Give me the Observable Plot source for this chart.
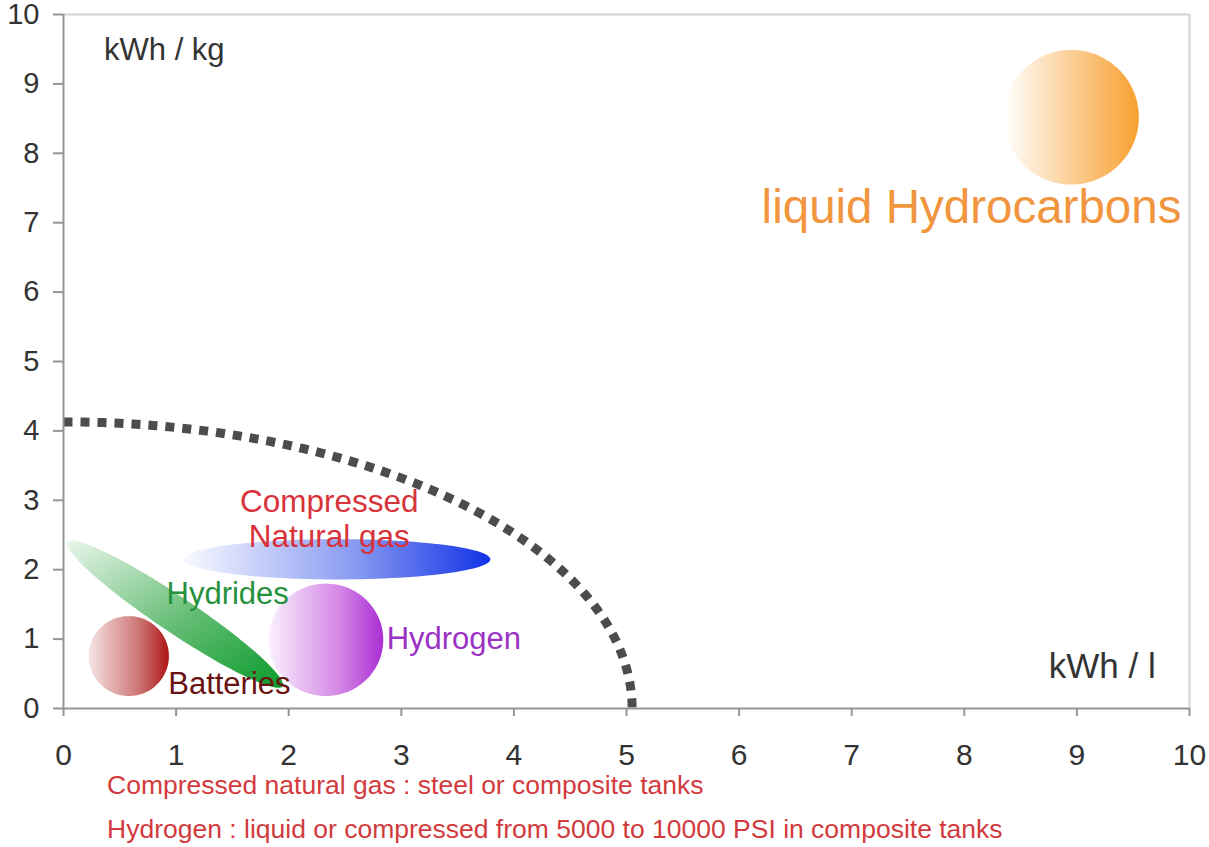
<!DOCTYPE html>
<html>
<head>
<meta charset="utf-8">
<script src="https://cdn.jsdelivr.net/npm/d3@7"></script>
<script src="https://cdn.jsdelivr.net/npm/@observablehq/plot@0.6"></script>
<style>
  html, body { margin: 0; padding: 0; background: #ffffff; }
  body { font-family: "Liberation Sans", Arial, sans-serif; width: 1209px; height: 847px; overflow: hidden; }
  #chart svg { display: block; overflow: visible; }
  .cap { padding-left: 107px; font-size: 26.5px; line-height: 30px; height: 30px; color: #d23a3e; white-space: nowrap; }
</style>
</head>
<body>
<div id="chart"></div>
<div id="captions"></div>
<script>
// ---------- data ----------
const xTicks = [0, 1, 2, 3, 4, 5, 6, 7, 8, 9, 10];
const yTicks = [0, 1, 2, 3, 4, 5, 6, 7, 8, 9, 10];

// storage technology regions (ellipses in kWh/l × kWh/kg space):
// centre, and two conjugate semi-axis vectors
const regionNames = ["Batteries", "Hydrides", "Hydrogen", "Compressed Natural gas", "liquid Hydrocarbons"];
const regionCx = [0.58, 0.99, 2.33, 2.43, 8.95];
const regionCy = [0.755, 1.36, 0.99, 2.15, 8.52];
const regionAx = [0.356, 0.955, 0.51, 1.36, 0.6];
const regionAy = [0, -1.04, 0, 0, 0];
const regionBx = [0, -0.09, 0, 0, 0];
const regionBy = [0.576, -0.215, 0.81, 0.29, 0.97];

// dashed limit curve: quarter ellipse through (0, limitRy) and (limitRx, 0)
const limitRx = 5.05;
const limitRy = 4.13;

// annotation texts and their anchors (data units)
const labelTexts = ["Compressed\nNatural gas", "Hydrides", "Batteries", "Hydrogen", "liquid Hydrocarbons", "kWh / kg", "kWh / l"];
const labelX = [2.36, 0.915, 0.93, 2.87, 6.2, 0.36, 8.75];
const labelY = [2.745, 1.67, 0.375, 1.024, 7.24, 9.51, 0.62];

const captionLines = [
  "Compressed natural gas : steel or composite tanks",
  "Hydrogen : liquid or compressed from 5000 to 10000 PSI in composite tanks"
];

// ---------- styles ----------
const regionGradients = {
  "Batteries": {stops: [[0, "#f6e4e4"], [0.65, "#cc7070"], [1, "#ae1414"]], dir: [0, 0, 1, 0]},
  "Hydrides": {stops: [[0, "#eaf6ec"], [0.55, "#62bc72"], [1, "#0a9a2c"]], dir: [0, 0, 1, 1]},
  "Hydrogen": {stops: [[0, "#fbf1fd"], [0.6, "#d58ae6"], [1, "#aa2ed4"]], dir: [0, 0, 1, 0]},
  "Compressed Natural gas": {stops: [[0, "#f8f9ff"], [0.55, "#8a9cf2"], [1, "#1232e6"]], dir: [0, 0, 1, 0]},
  "liquid Hydrocarbons": {stops: [[0, "#ffffff"], [0.5, "#fccf96"], [1, "#f7a02e"]], dir: [0, 0, 1, 0]}
};
const labelStyles = {
  "Compressed\nNatural gas": {fill: "#d8323a", fontSize: 31.5, anchor: "middle"},
  "Hydrides": {fill: "#27903c", fontSize: 31, anchor: "start"},
  "Batteries": {fill: "#6a1212", fontSize: 31, anchor: "start"},
  "Hydrogen": {fill: "#9a32c4", fontSize: 31, anchor: "start"},
  "liquid Hydrocarbons": {fill: "#f2953f", fontSize: 47.5, anchor: "start"},
  "kWh / kg": {fill: "#333333", fontSize: 31, anchor: "start"},
  "kWh / l": {fill: "#333333", fontSize: 35, anchor: "start"}
};

// ---------- build tables ----------
const N = 120;
const steps = d3.range(N + 1).map(i => (i / N) * 2 * Math.PI);
const regionOutlines = regionNames.map((name, k) =>
  steps.map(t => ({
    name,
    x: regionCx[k] + regionAx[k] * Math.cos(t) + regionBx[k] * Math.sin(t),
    y: regionCy[k] + regionAy[k] * Math.cos(t) + regionBy[k] * Math.sin(t)
  }))
);
const arcSteps = d3.range(91).map(i => (Math.PI / 2) * (1 - i / 90));
const limitCurve = arcSteps.map(t => ({x: limitRx * Math.cos(t), y: limitRy * Math.sin(t)}));
const labels = labelTexts.map((text, i) => ({text, x: labelX[i], y: labelY[i]}));

const gradId = name => "grad-" + regionNames.indexOf(name);

const marks = [
  Plot.ruleY([10], {stroke: "#d4d4d4", strokeWidth: 2}),
  Plot.ruleX([10], {stroke: "#d4d4d4", strokeWidth: 2}),
  ...regionOutlines.map(pts => Plot.line(pts, {x: "x", y: "y", fill: `url(#${gradId(pts[0].name)})`, stroke: "none"})),
  Plot.line(limitCurve, {x: "x", y: "y", stroke: "#4c4c4c", strokeWidth: 9, strokeDasharray: "9,8", strokeLinecap: "butt"}),
  ...labels.map(l => Plot.text([l], {
    x: "x", y: "y", text: "text",
    fill: labelStyles[l.text].fill,
    fontSize: labelStyles[l.text].fontSize,
    textAnchor: labelStyles[l.text].anchor,
    lineAnchor: "middle",
    lineHeight: 1.12
  })),
  Plot.ruleY([0], {stroke: "#959595", strokeWidth: 2}),
  Plot.ruleX([0], {stroke: "#959595", strokeWidth: 2}),
  Plot.axisX({ticks: xTicks, tickSize: 8, tickPadding: 27, fontSize: 30, stroke: "#959595", strokeWidth: 2, fill: "#333333", tickFormat: d => String(d), label: null}),
  Plot.axisY({ticks: yTicks, tickSize: 10, tickPadding: 14, fontSize: 29, stroke: "#959595", strokeWidth: 2, fill: "#333333", tickFormat: d => String(d), label: null})
];

const chart = Plot.plot({
  width: 1209,
  height: 770,
  marginLeft: 63,
  marginRight: 20,
  marginTop: 14,
  marginBottom: 62,
  x: {domain: [0, 10]},
  y: {domain: [0, 10]},
  style: {fontFamily: "'Liberation Sans', Arial, sans-serif", background: "#ffffff", color: "#333333"},
  marks
});

// gradient definitions used by the region fills
const defs = d3.select(chart).insert("defs", ":first-child");
regionNames.forEach(name => {
  const g = regionGradients[name];
  const lg = defs.append("linearGradient")
    .attr("id", gradId(name))
    .attr("x1", g.dir[0]).attr("y1", g.dir[1]).attr("x2", g.dir[2]).attr("y2", g.dir[3]);
  g.stops.forEach(([o, c]) => lg.append("stop").attr("offset", o).attr("stop-color", c));
});

document.getElementById("chart").appendChild(chart);
const capDiv = document.getElementById("captions");
captionLines.forEach((line, i) => {
  const d = document.createElement("div");
  d.className = "cap";
  if (i > 0) d.style.marginTop = "14px";
  d.textContent = line;
  capDiv.appendChild(d);
});
</script>
</body>
</html>
